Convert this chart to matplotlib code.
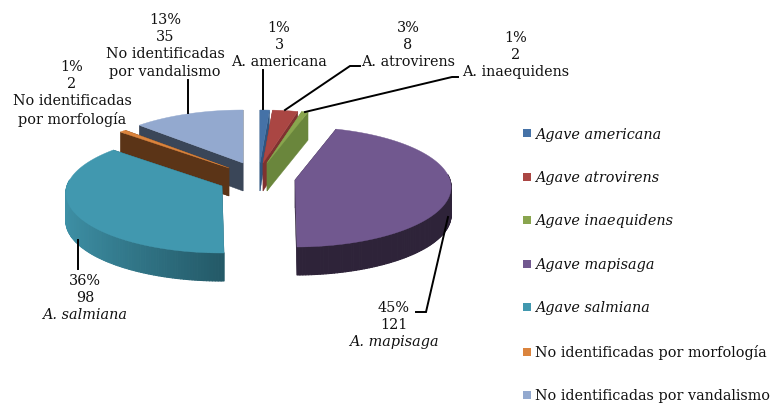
import numpy as np
import matplotlib
matplotlib.use("Agg")
import matplotlib.pyplot as plt
from matplotlib.lines import Line2D
from matplotlib.collections import PolyCollection
from matplotlib.colors import to_rgb

species = ["Agave americana", "Agave atrovirens", "Agave inaequidens", "Agave mapisaga",
           "Agave salmiana", "No identificadas por morfología", "No identificadas por vandalismo"]
counts = [3, 8, 2, 121, 98, 2, 35]
percents = [1, 3, 1, 45, 36, 1, 13]
short_names = ["A. americana", "A. atrovirens", "A. inaequidens", "A. mapisaga",
               "A. salmiana", "No identificadas\npor morfología", "No identificadas\npor vandalismo"]
top_colors = ["#4572a7", "#aa4643", "#89a54e", "#71588f", "#4198af", "#db843d", "#93a9cf"]
wall_colors = ["#2f5580", "#7f3230", "#6a863c", "#2e2339", "#245a68", "#5b3417", "#3a4658"]

plt.rcParams["font.family"] = ["DejaVu Serif"]
FS = 10.4
DEPTH = 28
LINE_STEP = 17.2

# pie position and per slice explode offsets, in pixels
CENTER = (243, 163)
EXPLODE = [(17, 0), (20, 0), (24, 0), (52, 17), (-21, 23), (-14, 5), (0, 0)]
DRAW_ORDER = [6, 5, 0, 1, 2, 4, 3]


def rim(theta):
    # tilted circle with some perspective, theta clockwise from the top
    c = np.cos(theta)
    return 155 * np.sin(theta) * (1 - 0.12 * c), -c * (60 - 7 * c)


def draw_slice(ax, apex, t0, t1, top, wall):
    ts = np.linspace(t0, t1, max(int((t1 - t0) * 60), 3))
    xs, ys = rim(ts)
    xs, ys = xs + apex[0], ys + apex[1]

    # radial walls
    for x, y in [(xs[0], ys[0]), (xs[-1], ys[-1])]:
        ax.fill([apex[0], x, x, apex[0]], [apex[1], y, y + DEPTH, apex[1] + DEPTH],
                color=wall, lw=0.3)

    # outer wall, only the front part shows, darker towards the middle of the pie
    quads, cols = [], []
    rgb_top, rgb_wall = np.array(to_rgb(top)), np.array(to_rgb(wall))
    for i in range(len(ts) - 1):
        if np.cos(ts[i]) > 0.1:
            continue
        quads.append([(xs[i], ys[i]), (xs[i + 1], ys[i + 1]),
                      (xs[i + 1], ys[i + 1] + DEPTH), (xs[i], ys[i] + DEPTH)])
        f = 1 + np.sin(ts[i]) if np.sin(ts[i]) < 0 else 1.0
        cols.append(rgb_top * 0.95 * (1 - f) + rgb_wall * f)
    if quads:
        ax.add_collection(PolyCollection(quads, facecolors=cols, edgecolors=cols,
                                         linewidths=0.8))

    ax.fill(np.r_[apex[0], xs], np.r_[apex[1], ys], color=top, lw=0.3)


fig = plt.figure(figsize=(7.75, 4.03), dpi=100)
ax = fig.add_axes([0, 0, 1, 1])
ax.set_xlim(0, 775)
ax.set_ylim(403, 0)
ax.axis("off")

edges = np.r_[0, np.cumsum(counts)] / sum(counts) * 2 * np.pi
for i in DRAW_ORDER:
    apex = (CENTER[0] + EXPLODE[i][0], CENTER[1] + EXPLODE[i][1])
    draw_slice(ax, apex, edges[i], edges[i + 1], top_colors[i], wall_colors[i])

# leader lines
leaders = [
    [(263, 70), (263, 109)],
    [(360, 66), (350, 66), (285, 110)],
    [(458, 77), (452, 77), (305, 112)],
    [(416, 312), (426, 312), (448, 217)],
    [(78, 240), (78, 269)],
    [(188, 80), (188, 113)],
]
for pts in leaders:
    ax.plot(*zip(*pts), color="black", lw=1.4, solid_joinstyle="miter")

# data labels: index, centre x, y of the first line, italic name
label_pos = [(0, 279, 27, False), (1, 408, 27, False), (2, 516, 37, False),
             (3, 394, 307, True), (4, 85, 280, True), (5, 72, 66, False), (6, 165, 19, False)]
for i, x, y, italic in label_pos:
    ax.text(x, y - 6, f"{percents[i]}%\n{counts[i]}", ha="center", va="top",
            fontsize=FS, linespacing=1.3, color="#111111")
    ax.text(x, y - 6 + 2 * LINE_STEP, short_names[i], ha="center", va="top",
            fontsize=FS, linespacing=1.3, style="italic" if italic else "normal", color="#111111")

handles = [Line2D([], [], ls="none", marker="s", ms=6.2, color=c, mew=0) for c in top_colors]
leg = ax.legend(handles, species, loc="upper left", bbox_to_anchor=(522 / 775, 1 - 127.5 / 403),
                frameon=False, fontsize=FS, labelspacing=2.04, handlelength=0.7,
                handletextpad=0.2, borderpad=0, borderaxespad=0)
for t in leg.get_texts()[:5]:
    t.set_style("italic")
for t in leg.get_texts():
    t.set_color("#111111")

fig.savefig("out.png", dpi=100)
